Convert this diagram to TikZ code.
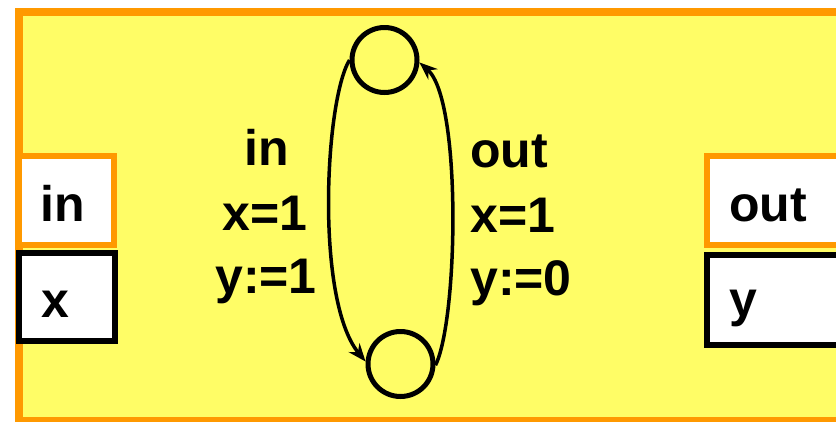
\documentclass[tikz,border=0pt]{standalone}
\usepackage{fontspec}
\setmainfont{Liberation Sans}
\usetikzlibrary{arrows.meta}
\definecolor{bgyellow}{HTML}{FFFD66}
\definecolor{bordorange}{HTML}{FF9900}
\tikzset{
  lbl/.style={font=\bfseries\fontsize{50}{60}\selectfont, inner sep=0pt, text=black},
  state/.style={circle, draw=black, line width=5pt, minimum size=65pt, inner sep=0pt},
  portbox/.style={draw=bordorange, fill=white, line width=6pt, inner sep=0pt, outer sep=0pt},
  varbox/.style={draw=black, fill=white, line width=6pt, inner sep=0pt, outer sep=0pt},
  trans/.style={draw=black, line width=3.5pt, -{Stealth[length=18pt,width=14pt]}}
}
\begin{document}
\begin{tikzpicture}[x=1pt,y=-1pt]
\useasboundingbox (0,0) rectangle (836,421);
\clip (0,0) rectangle (836,421);
% outer frame
\draw[draw=bordorange, fill=bgyellow, line width=8pt] (19,12) rectangle (870,421);
% left boxes
\node[portbox, minimum width=95pt, minimum height=89pt, anchor=north west] (inbox) at (19,156) {};
\node[varbox, minimum width=96pt, minimum height=88pt, anchor=north west] (xbox) at (19,253) {};
\node[lbl, anchor=base west] (inlbl) at (40,221) {in};
\node[lbl, anchor=base west] (xlbl) at (41,317) {x};
% right boxes
\node[portbox, minimum width=160pt, minimum height=89pt, anchor=north west] (outbox) at (707,156) {};
\node[varbox, minimum width=160pt, minimum height=90pt, anchor=north west] (ybox) at (707,255) {};
\node[lbl, anchor=base west] (outlbl) at (729,221) {out};
\node[lbl, anchor=base west] (ylbl) at (729,316) {y};
% states
\node[state] (top) at (384.5,60) {};
\node[state] (bot) at (400.5,364) {};
% transitions
\draw[trans] (top.180) .. controls (325,100) and (315,300) .. (bot.176);
\draw[trans] (bot.-2) .. controls (458,320) and (462,100) .. (top.-4);
% labels
\node[lbl, anchor=base] (l1) at (267,165) {in};
\node[lbl, anchor=base] (l2) at (265,230) {x=1};
\node[lbl, anchor=base] (l3) at (266,293) {y:=1};
\node[lbl, anchor=base west] (r1) at (470,167) {out};
\node[lbl, anchor=base west] (r2) at (470,232) {x=1};
\node[lbl, anchor=base west] (r3) at (470,295) {y:=0};
\end{tikzpicture}
\end{document}
